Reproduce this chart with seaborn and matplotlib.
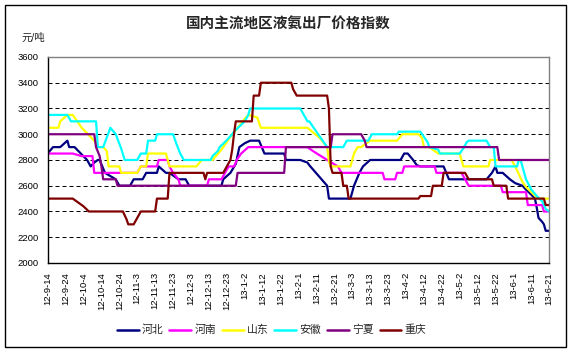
import pandas as pd
import seaborn as sns
import matplotlib.pyplot as plt
from matplotlib.lines import Line2D
from matplotlib.patches import Rectangle

# 河北
hebei_dates = ['2012-09-14', '2012-09-17', '2012-09-21', '2012-09-25', '2012-09-26', '2012-09-29',
               '2012-10-06', '2012-10-08', '2012-10-10', '2012-10-12', '2012-10-13', '2012-10-16',
               '2012-10-22', '2012-10-24', '2012-10-30', '2012-11-01', '2012-11-06', '2012-11-08',
               '2012-11-14', '2012-11-15', '2012-11-19', '2012-11-21', '2012-11-26', '2012-11-30',
               '2012-12-02', '2012-12-20', '2012-12-21', '2012-12-25', '2012-12-28', '2012-12-30',
               '2013-01-02', '2013-01-05', '2013-01-10', '2013-01-13', '2013-01-24', '2013-01-25',
               '2013-02-02', '2013-02-06', '2013-02-07', '2013-02-17', '2013-02-18', '2013-03-02',
               '2013-03-04', '2013-03-07', '2013-03-09', '2013-03-13', '2013-03-30', '2013-04-01',
               '2013-04-03', '2013-04-06', '2013-04-08', '2013-04-10', '2013-04-23', '2013-04-26',
               '2013-05-17', '2013-05-20', '2013-05-22', '2013-05-23', '2013-05-26', '2013-05-30',
               '2013-06-02', '2013-06-06', '2013-06-08', '2013-06-11', '2013-06-13', '2013-06-14',
               '2013-06-15', '2013-06-17', '2013-06-18', '2013-06-19', '2013-06-21']
hebei_vals = [2850, 2900, 2900, 2950, 2900, 2900,
              2800, 2750, 2780, 2800, 2800, 2700,
              2650, 2600, 2600, 2650, 2650, 2700,
              2700, 2750, 2700, 2700, 2650, 2650,
              2600, 2600, 2650, 2700, 2770, 2900,
              2930, 2950, 2950, 2850, 2850, 2800,
              2800, 2780, 2760, 2600, 2500, 2500,
              2600, 2700, 2750, 2800, 2800, 2850,
              2850, 2800, 2760, 2750, 2750, 2650,
              2650, 2700, 2750, 2700, 2700, 2650,
              2620, 2600, 2570, 2530, 2500, 2430,
              2350, 2320, 2300, 2250, 2250]

# 河南
henan_dates = ['2012-09-14', '2012-09-28', '2012-10-03', '2012-10-09', '2012-10-10', '2012-11-03',
               '2012-11-05', '2012-11-14', '2012-11-15', '2012-11-20', '2012-11-21', '2012-11-23',
               '2012-11-26', '2012-11-27', '2012-12-12', '2012-12-13', '2012-12-20', '2012-12-22',
               '2012-12-24', '2012-12-27', '2012-12-29', '2012-12-31', '2013-01-04', '2013-02-06',
               '2013-02-09', '2013-02-17', '2013-02-23', '2013-02-25', '2013-03-20', '2013-03-21',
               '2013-03-27', '2013-03-28', '2013-03-31', '2013-04-01', '2013-04-18', '2013-04-19',
               '2013-05-03', '2013-05-05', '2013-05-07', '2013-05-25', '2013-05-26', '2013-06-08',
               '2013-06-09', '2013-06-17', '2013-06-18', '2013-06-21']
henan_vals = [2850, 2850, 2830, 2830, 2700, 2700,
              2750, 2750, 2800, 2800, 2750, 2700,
              2650, 2600, 2600, 2650, 2650, 2700,
              2750, 2750, 2810, 2850, 2900, 2900,
              2870, 2800, 2750, 2700, 2700, 2650,
              2650, 2700, 2700, 2750, 2750, 2700,
              2700, 2650, 2600, 2600, 2550, 2550,
              2450, 2450, 2400, 2400]

# 山东
shandong_dates = ['2012-09-14', '2012-09-20', '2012-09-21', '2012-09-25', '2012-09-28', '2012-10-03',
                  '2012-10-10', '2012-10-12', '2012-10-15', '2012-10-17', '2012-10-18', '2012-10-24',
                  '2012-10-25', '2012-11-03', '2012-11-05', '2012-11-08', '2012-11-09', '2012-11-19',
                  '2012-11-21', '2012-12-06', '2012-12-09', '2012-12-15', '2012-12-20', '2012-12-26',
                  '2012-12-28', '2013-01-02', '2013-01-04', '2013-01-09', '2013-01-11', '2013-02-06',
                  '2013-02-13', '2013-02-17', '2013-02-18', '2013-02-19', '2013-03-02', '2013-03-04',
                  '2013-03-06', '2013-03-08', '2013-03-11', '2013-03-13', '2013-03-28', '2013-03-31',
                  '2013-04-09', '2013-04-11', '2013-04-12', '2013-04-15', '2013-04-20', '2013-05-02',
                  '2013-05-04', '2013-05-18', '2013-05-19', '2013-05-31', '2013-06-03', '2013-06-06',
                  '2013-06-08', '2013-06-11', '2013-06-14', '2013-06-16', '2013-06-21']
shandong_vals = [3050, 3050, 3100, 3150, 3150, 3050,
                 2950, 2900, 2900, 2870, 2750, 2750,
                 2700, 2700, 2750, 2750, 2850, 2850,
                 2750, 2750, 2800, 2800, 2880, 3000,
                 3030, 3120, 3150, 3130, 3050, 3050,
                 2970, 2900, 2790, 2750, 2750, 2850,
                 2900, 2900, 2930, 2950, 2950, 3000,
                 3000, 2970, 2900, 2900, 2850, 2850,
                 2750, 2750, 2800, 2800, 2720, 2630,
                 2590, 2550, 2510, 2500, 2500]

# 安徽
anhui_dates = ['2012-09-14', '2012-09-25', '2012-09-27', '2012-10-11', '2012-10-12', '2012-10-15',
               '2012-10-19', '2012-10-22', '2012-10-25', '2012-10-27', '2012-11-03', '2012-11-05',
               '2012-11-08', '2012-11-09', '2012-11-13', '2012-11-14', '2012-11-23', '2012-11-25',
               '2012-11-27', '2012-11-29', '2012-12-14', '2012-12-15', '2012-12-18', '2012-12-19',
               '2012-12-22', '2012-12-26', '2012-12-27', '2012-12-30', '2013-01-02', '2013-01-04',
               '2013-01-05', '2013-02-02', '2013-02-04', '2013-02-06', '2013-02-07', '2013-02-17',
               '2013-02-26', '2013-02-28', '2013-03-12', '2013-03-14', '2013-03-28', '2013-03-29',
               '2013-04-10', '2013-04-12', '2013-04-14', '2013-04-15', '2013-04-20', '2013-04-21',
               '2013-05-02', '2013-05-04', '2013-05-06', '2013-05-07', '2013-05-17', '2013-05-19',
               '2013-05-21', '2013-05-22', '2013-06-03', '2013-06-04', '2013-06-05', '2013-06-08',
               '2013-06-11', '2013-06-14', '2013-06-17', '2013-06-19', '2013-06-21']
anhui_vals = [3150, 3150, 3100, 3100, 2900, 2900,
              3050, 3000, 2890, 2800, 2800, 2850,
              2850, 2950, 2950, 3000, 3000, 2920,
              2850, 2800, 2800, 2830, 2870, 2900,
              2940, 3000, 3020, 3060, 3100, 3150,
              3200, 3200, 3150, 3100, 3100, 2900,
              2900, 2950, 2950, 3000, 3000, 3020,
              3020, 2980, 2940, 2900, 2880, 2850,
              2850, 2890, 2940, 2950, 2950, 2900,
              2900, 2750, 2750, 2800, 2800, 2650,
              2570, 2520, 2480, 2420, 2400]

# 宁夏
ningxia_dates = ['2012-09-14', '2012-10-10', '2012-10-11', '2012-10-13', '2012-10-14', '2012-10-15',
                 '2012-10-22', '2012-10-23', '2012-12-28', '2012-12-29', '2013-01-24', '2013-01-25',
                 '2013-02-19', '2013-02-20', '2013-03-08', '2013-03-10', '2013-03-11', '2013-05-23',
                 '2013-05-24', '2013-06-21']
ningxia_vals = [3000, 3000, 2900, 2830, 2750, 2650,
                2650, 2600, 2600, 2700, 2700, 2900,
                2900, 3000, 3000, 2950, 2900, 2900,
                2800, 2800]

# 重庆
chongqing_dates = ['2012-09-14', '2012-09-28', '2012-10-01', '2012-10-04', '2012-10-07', '2012-10-26',
                   '2012-10-28', '2012-10-29', '2012-11-01', '2012-11-03', '2012-11-05', '2012-11-13',
                   '2012-11-14', '2012-11-20', '2012-11-21', '2012-12-10', '2012-12-11', '2012-12-12',
                   '2012-12-21', '2012-12-23', '2012-12-25', '2012-12-26', '2012-12-27', '2012-12-28',
                   '2013-01-06', '2013-01-07', '2013-01-10', '2013-01-11', '2013-01-28', '2013-01-29',
                   '2013-01-31', '2013-02-17', '2013-02-18', '2013-02-19', '2013-02-20', '2013-02-25',
                   '2013-02-26', '2013-02-28', '2013-03-01', '2013-04-09', '2013-04-10', '2013-04-16',
                   '2013-04-17', '2013-04-22', '2013-04-23', '2013-05-05', '2013-05-07', '2013-05-20',
                   '2013-05-21', '2013-05-28', '2013-05-29', '2013-06-18', '2013-06-19', '2013-06-21']
chongqing_vals = [2500, 2500, 2470, 2440, 2400, 2400,
                  2340, 2300, 2300, 2350, 2400, 2400,
                  2500, 2500, 2700, 2700, 2650, 2700,
                  2700, 2750, 2800, 2880, 3000, 3100,
                  3100, 3300, 3300, 3400, 3400, 3350,
                  3300, 3300, 3200, 2750, 2700, 2700,
                  2600, 2600, 2500, 2500, 2520, 2520,
                  2600, 2600, 2700, 2700, 2650, 2650,
                  2600, 2600, 2500, 2500, 2450, 2450]

regions = ['河北', '河南', '山东', '安徽', '宁夏', '重庆']
colors = ['#000080', '#FF00FF', '#FFFF00', '#00FFFF', '#800080', '#800000']
tick_labels = ['12-9-14', '12-9-24', '12-10-4', '12-10-14', '12-10-24', '12-11-3', '12-11-13',
               '12-11-23', '12-12-3', '12-12-13', '12-12-23', '13-1-2', '13-1-12', '13-1-22',
               '13-2-1', '13-2-11', '13-2-21', '13-3-3', '13-3-13', '13-3-23', '13-4-2', '13-4-12',
               '13-4-22', '13-5-2', '13-5-12', '13-5-22', '13-6-1', '13-6-11', '13-6-21']
y_ticks = [2000, 2200, 2400, 2600, 2800, 3000, 3200, 3400, 3600]

all_dates = [hebei_dates, henan_dates, shandong_dates, anhui_dates, ningxia_dates, chongqing_dates]
all_vals = [hebei_vals, henan_vals, shandong_vals, anhui_vals, ningxia_vals, chongqing_vals]

frames = []
for name, d, v in zip(regions, all_dates, all_vals):
    frames.append(pd.DataFrame({'date': pd.to_datetime(d), 'price': v, 'region': name}))
df = pd.concat(frames, ignore_index=True)

sns.set_style('white')
plt.rcParams['font.family'] = ['Liberation Sans', 'Noto Sans CJK SC']

fig = plt.figure(figsize=(5.73, 3.53), dpi=100)
ax = fig.add_axes([0.0832, 0.255, 0.8754, 0.5836])

# dashed gridlines behind the lines
for yv in y_ticks[1:-1]:
    ax.axhline(yv, color='black', linewidth=0.72, linestyle=(0, (4, 3)), zorder=1)

sns.lineplot(data=df, x='date', y='price', hue='region', hue_order=regions,
             palette=dict(zip(regions, colors)), sort=False, estimator=None,
             linewidth=1.6, legend=False, ax=ax, zorder=2)

tick_pos = pd.date_range('2012-09-14', periods=len(tick_labels), freq='10D')
ax.set_xlim(tick_pos[0], tick_pos[-1])
ax.set_xticks(tick_pos)
ax.set_xticklabels(tick_labels, rotation=90, fontsize=6.8)
ax.set_ylim(2000, 3600)
ax.set_yticks(y_ticks)
ax.set_yticklabels([str(t) for t in y_ticks], fontsize=6.8)
ax.set_xlabel('')
ax.set_ylabel('')
ax.tick_params(axis='x', direction='out', length=2.5, width=0.8, pad=4, colors='black')
ax.tick_params(axis='y', direction='out', length=2.5, width=0.8, pad=4, colors='black')
ax.grid(False)

for side in ['left', 'bottom']:
    ax.spines[side].set_color('black')
    ax.spines[side].set_linewidth(1.0)
for side in ['top', 'right']:
    ax.spines[side].set_color('#808080')
    ax.spines[side].set_linewidth(1.0)

fig.text(0.503, 0.93, '国内主流地区液氨出厂价格指数', ha='center', va='center',
         fontsize=10.5, fontweight='bold')
fig.text(0.058, 0.893, '元/吨', ha='center', va='center', fontsize=7.5)

handles = [Line2D([0], [0], color=c, linewidth=1.8) for c in colors]
fig.legend(handles, regions, loc='center', bbox_to_anchor=(0.474, 0.065), ncol=6,
           frameon=False, fontsize=7.8, handlelength=2.0, handletextpad=0.31,
           columnspacing=0.53)

fig.patches.append(Rectangle((0.0087, 0.017), 0.979, 0.969, transform=fig.transFigure,
                             fill=False, edgecolor='black', linewidth=1.0))

fig.savefig('out.png', dpi=100)
